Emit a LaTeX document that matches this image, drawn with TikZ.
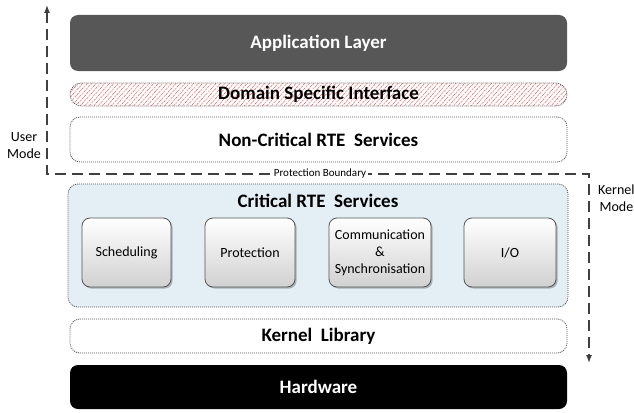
\documentclass[tikz,border=0pt]{standalone}
\usepackage{fontspec}
\setmainfont{Carlito}
\usetikzlibrary{arrows.meta,patterns.meta,shadows}
\definecolor{appgray}{HTML}{575757}
\definecolor{critblue}{HTML}{E4EEF5}
\definecolor{bordgray}{HTML}{555555}
\definecolor{hatchred}{HTML}{E06060}
\tikzset{
  layer/.style={rounded corners=10pt, minimum width=497pt, inner sep=0pt,
    font=\fontsize{19}{22}\selectfont\bfseries},
  dotbord/.style={draw=bordgray, line width=0.8pt, dash pattern=on 1pt off 1pt},
  solidlayer/.style={layer, rounded corners=8pt, text=white},
  sub/.style={draw=bordgray, line width=0.8pt, rounded corners=8pt, inner sep=1pt,
    top color=white, bottom color=black!18, align=center,
    minimum height=69pt, font=\fontsize{14}{17}\selectfont,
    drop shadow={shadow xshift=1.6pt, shadow yshift=-1.6pt, opacity=0.25, fill=black}},
  bound/.style={draw=black!75, line width=1.3pt, dash pattern=on 11pt off 6pt},
  modelabel/.style={align=center, font=\fontsize{14}{17}\selectfont, inner sep=0pt},
}
\begin{document}
\begin{tikzpicture}[x=1pt,y=-1pt]
\useasboundingbox (0,0) rectangle (634,412);
\node[solidlayer, fill=appgray, minimum height=56pt] (app) at (318.5,43) {Application Layer};
\node[layer, dotbord, rounded corners=11.5pt, pattern={Lines[angle=48,distance=3.3pt,line width=0.6pt]}, pattern color=hatchred, minimum height=23pt] (dsi) at (318.5,94.5) {Domain Specific Interface};
\node[layer, dotbord, fill=white, minimum height=45pt] (ncr) at (318.5,139.5) {Non-Critical RTE\ \ Services};
\node[layer, dotbord, fill=critblue, minimum width=500pt, minimum height=123pt] (crit) at (318,245.5) {};
\node[font=\fontsize{19}{22}\selectfont\bfseries, inner sep=0pt] (crittitle) at (318,201) {Critical RTE\ \ Services};
\node[sub, minimum width=89pt] (sched) at (126.5,252.5) {Scheduling};
\node[sub, minimum width=90pt] (prot) at (250,252.5) {Protection};
\node[sub, minimum width=102pt] (comm) at (380,252.5) {Communication\\\&\\Synchronisation};
\node[sub, minimum width=92pt] (io) at (510,252.5) {I/O};
\node[layer, dotbord, fill=white, minimum height=34pt] (klib) at (318.5,336) {Kernel\ \ Library};
\node[solidlayer, fill=black, minimum height=44pt] (hw) at (318.5,387) {Hardware};
\coordinate (ua) at (47,5);
\coordinate (ub) at (47,174);
\coordinate (kb) at (589,174);
\coordinate (ka) at (589,363);
\draw[bound, {Latex[length=8pt,width=6pt]}-{Latex[length=8pt,width=6pt]}] (ua) -- (ub) -- (kb) -- (ka);
\node[fill=white, inner sep=1.5pt, font=\fontsize{11}{13}\selectfont] (pb) at (320,174) {Protection Boundary};
\node[modelabel] (user) at (24,146) {User\\Mode};
\node[modelabel, anchor=north west] (kern) at (598,185) {Kernel\\Mode};
\end{tikzpicture}
\end{document}
